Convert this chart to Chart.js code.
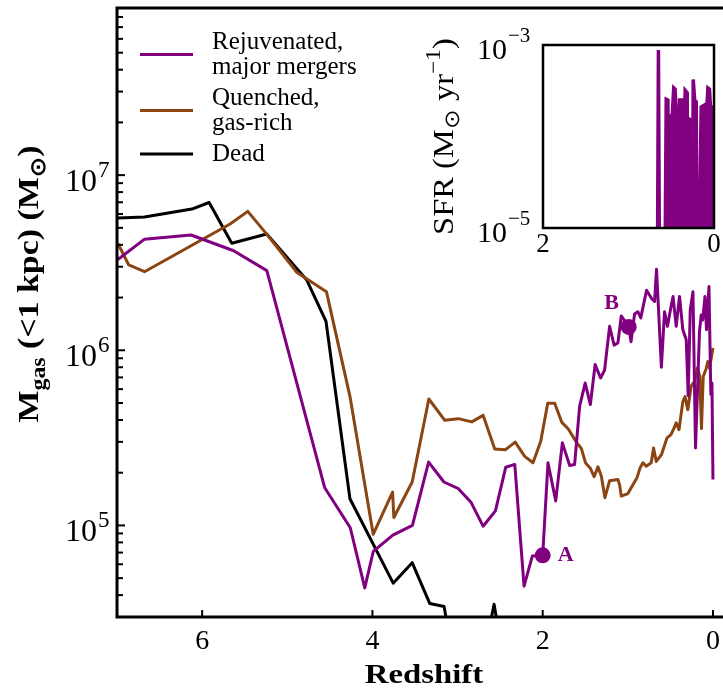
<!DOCTYPE html>
<html>
<head>
<meta charset="utf-8">
<script src="https://cdn.jsdelivr.net/npm/chart.js@4.4.1/dist/chart.umd.min.js"></script>
<style>
  body { margin: 0; background: #fff; overflow: hidden; }
  #wrap { position: relative; width: 740px; height: 693px; }
  #main { position: absolute; left: 0; top: 0; }
  #inset { position: absolute; left: 400px; top: 0; }
</style>
</head>
<body>
<div id="wrap">
  <canvas id="main" width="740" height="693" style="width:740px;height:693px"></canvas>
  <canvas id="inset" width="323" height="270" style="width:323px;height:270px"></canvas>
</div>
<script>
// ---- data ----
const rejZ = [6.99, 6.68, 6.13, 5.63, 5.24, 4.56, 4.26, 4.09, 3.99, 3.76, 3.53, 3.34, 3.16, 2.99, 2.84, 2.70,
  2.555, 2.434, 2.328, 2.219, 2.121, 2.0, 1.938, 1.847, 1.769, 1.683, 1.625, 1.566, 1.501, 1.440, 1.384,
  1.320, 1.273, 1.214, 1.161, 1.117, 1.077, 1.026, 0.99, 0.962, 0.921, 0.882, 0.848, 0.780, 0.719, 0.686,
  0.663, 0.606, 0.569, 0.534, 0.504, 0.469, 0.432, 0.393, 0.354, 0.314, 0.291, 0.267, 0.235, 0.205, 0.158,
  0.138, 0.120, 0.094, 0.076, 0.047, 0.025, 0.012, 0.0];
const rejMass = [3.3e6, 4.3e6, 4.55e6, 3.7e6, 2.85e6, 1.64e5, 9.7e4, 4.4e4, 7.1e4, 8.8e4, 1.0e5, 2.3e5, 1.77e5,
  1.62e5, 1.35e5, 9.9e4, 1.21e5, 2.15e5, 2.23e5, 4.5e4, 6.7e4, 6.75e4, 2.28e5, 1.38e5, 2.96e5, 2.2e5, 2.23e5,
  4.8e5, 6.5e5, 4.9e5, 8.3e5, 6.95e5, 7.7e5, 1.37e6, 1.07e6, 1.1e6, 1.57e6, 1.45e6, 1.36e6, 1.12e6, 1.61e6,
  1.66e6, 1.53e6, 2.2e6, 1.97e6, 1.9e6, 2.9e6, 8.0e5, 1.66e6, 1.37e6, 1.66e6, 2.03e6, 1.37e6, 2.03e6, 1.31e6,
  1.15e6, 5.5e5, 1.7e6, 2.16e6, 2.77e5, 1.29e6, 1.59e6, 1.49e6, 2.03e6, 1.31e6, 2.31e6, 5.6e5, 6.5e5, 1.83e5];

const quenZ = [6.99, 6.862, 6.677, 5.672, 5.464, 5.249, 4.886, 4.540, 4.264, 3.991, 3.763, 3.748, 3.533, 3.337,
  3.150, 2.991, 2.833, 2.700, 2.563, 2.440, 2.323, 2.211, 2.114, 2.023, 1.941, 1.859, 1.777, 1.699, 1.601,
  1.546, 1.496, 1.443, 1.396, 1.351, 1.311, 1.269, 1.214, 1.117, 1.097, 1.077, 0.999, 0.891, 0.856, 0.823,
  0.784, 0.725, 0.698, 0.666, 0.604, 0.540, 0.493, 0.463, 0.432, 0.399, 0.354, 0.328, 0.296, 0.256, 0.217,
  0.182, 0.155, 0.135, 0.115, 0.080, 0.061, 0.041, 0.0];
const quenMass = [4.08e6, 3.07e6, 2.81e6, 5.26e6, 6.21e6, 4.65e6, 2.78e6, 2.16e6, 5.46e5, 8.9e4, 1.55e5, 1.11e5,
  1.77e5, 5.27e5, 3.98e5, 4.07e5, 3.9e5, 4.25e5, 2.73e5, 2.7e5, 2.99e5, 2.48e5, 2.28e5, 3.02e5, 4.98e5, 4.98e5,
  3.89e5, 3.55e5, 2.97e5, 2.75e5, 2.27e5, 2.13e5, 1.9e5, 2.16e5, 1.91e5, 1.44e5, 1.8e5, 1.83e5, 1.71e5, 1.47e5,
  1.52e5, 1.88e5, 2.13e5, 2.28e5, 2.18e5, 2.28e5, 2.77e5, 2.32e5, 2.54e5, 3.16e5, 3.3e5, 3.55e5, 3.85e5, 3.52e5,
  5.09e5, 5.44e5, 4.58e5, 6.24e5, 6.64e5, 7.94e5, 7.09e5, 3.57e5, 7.06e5, 7.85e5, 8.63e5, 7.9e5, 1.03e6];

const deadZ = [6.99, 6.677, 6.121, 5.918, 5.652, 5.241, 4.772, 4.545, 4.264, 3.756, 3.533, 3.326, 3.158, 3.12,
  2.62, 2.571, 2.53, 2.4];
const deadMass = [5.7e6, 5.77e6, 6.4e6, 6.98e6, 4.08e6, 4.61e6, 2.52e6, 1.46e6, 1.42e5, 4.68e4, 6.13e4, 3.58e4,
  3.44e4, 2.7e4, 2.7e4, 3.55e4, 2.7e4, 2.6e4];

// marked snapshots on the rejuvenated track
const markZ = [2.0, 0.99];
const markMass = [6.75e4, 1.36e6];
const markNames = ['A', 'B'];

// inset: star formation rate of the rejuvenated galaxy (1e-6 = no star formation)
const sfrZ = [2.0, 0.664, 0.650, 0.635, 0.577, 0.559, 0.539, 0.532, 0.524, 0.489, 0.471, 0.456, 0.442, 0.421,
  0.415, 0.401, 0.380, 0.366, 0.337, 0.313, 0.304, 0.288, 0.267, 0.258, 0.243, 0.226, 0.208, 0.196, 0.173,
  0.164, 0.150, 0.115, 0.097, 0.071, 0.053, 0.041, 0.0];
const sfrVal = [1e-6, 1e-6, 8.8e-4, 1e-6, 1e-6, 2.55e-4, 2.5e-4, 1.4e-5, 1.67e-4, 1.67e-4, 3.4e-4, 3.3e-4,
  2.0e-4, 1.9e-4, 7e-5, 2.5e-4, 2.5e-4, 3.1e-5, 3.2e-4, 3.0e-4, 1e-6, 1.55e-4, 1.5e-4, 1e-6, 4.2e-4, 2.5e-4,
  2.4e-4, 1e-6, 1e-6, 2.6e-5, 2.1e-4, 2.2e-4, 1.3e-4, 3.4e-4, 3.3e-4, 2.1e-4, 2.1e-4];

const seriesNames = [['Rejuvenated,', 'major mergers'], ['Quenched,', 'gas-rich'], ['Dead']];
const seriesColors = ['#800080', '#8b4513', '#000000'];

const xTicks = [6, 4, 2, 0];
const yDecades = [5, 6, 7];
const insetXTicks = [2, 0];
const insetYDecades = [-3, -5];

const SERIF = '"Liberation Serif", "Times New Roman", serif';

function pairs(xs, ys) {
  return xs.map((x, i) => ({x: x, y: ys[i]}));
}

// draws a list of text runs (with sub/superscript offsets) centred on cx,
// optionally widened along the text direction
function drawRuns(ctx, runs, cx, y, stretch) {
  stretch = stretch || 1;
  let total = 0;
  runs.forEach(r => { ctx.font = r.font; r.w = ctx.measureText(r.t).width; total += r.w; });
  ctx.save();
  ctx.translate(cx, y);
  ctx.scale(stretch, 1);
  let x = -total / 2;
  ctx.textAlign = 'left';
  ctx.textBaseline = 'alphabetic';
  runs.forEach(r => {
    ctx.font = r.font;
    ctx.fillText(r.t, x, r.dy || 0);
    x += r.w;
  });
  ctx.restore();
}

// "10" with an exponent, right edge of the base at xr
function drawPower(ctx, exp, xr, y, baseSize, supSize, baseDy, supDy) {
  ctx.fillStyle = '#000';
  ctx.textBaseline = 'alphabetic';
  ctx.font = baseSize + 'px ' + SERIF;
  ctx.textAlign = 'right';
  ctx.fillText('10', xr, y + baseDy);
  ctx.font = supSize + 'px ' + SERIF;
  ctx.textAlign = 'left';
  ctx.fillText(exp, xr + 1, y + supDy);
}

const mainDecor = {
  id: 'mainDecor',
  afterDraw(chart) {
    const ctx = chart.ctx;
    const a = chart.chartArea;
    const xs = chart.scales.x, ys = chart.scales.y;
    ctx.save();
    ctx.strokeStyle = '#000';

    // y ticks, pointing inward
    ctx.lineWidth = 2;
    for (let p = 4; p <= 7; p++) {
      for (let k = 1; k <= 9; k++) {
        const v = k * Math.pow(10, p);
        if (v < ys.min || v > ys.max) continue;
        const py = ys.getPixelForValue(v);
        const len = k === 1 ? 8 : 6;
        ctx.beginPath();
        ctx.moveTo(a.left, py);
        ctx.lineTo(a.left + len, py);
        ctx.stroke();
      }
    }
    // x ticks
    xTicks.forEach(t => {
      const px = xs.getPixelForValue(t);
      ctx.beginPath();
      ctx.moveTo(px, a.bottom);
      ctx.lineTo(px, a.bottom - 7);
      ctx.stroke();
    });

    // frame
    ctx.lineWidth = 3;
    ctx.strokeRect(a.left, a.top, a.right - a.left, a.bottom - a.top);

    // tick labels
    ctx.fillStyle = '#000';
    ctx.font = '28px ' + SERIF;
    ctx.textAlign = 'center';
    ctx.textBaseline = 'alphabetic';
    xTicks.forEach(t => ctx.fillText(String(t), xs.getPixelForValue(t), 649));
    yDecades.forEach(d => {
      drawPower(ctx, String(d), 97, ys.getPixelForValue(Math.pow(10, d)), 32, 23, 16, 2);
    });

    // axis titles
    ctx.fillStyle = '#000';
    drawRuns(ctx, [{t: 'Redshift', font: 'bold 28px ' + SERIF}], 424, 683, 1.17);
    ctx.save();
    ctx.translate(38, 284);
    ctx.rotate(-Math.PI / 2);
    const bold = 'bold 30px ' + SERIF, boldSub = 'bold 21px ' + SERIF;
    drawRuns(ctx, [
      {t: 'M', font: bold},
      {t: 'gas', font: boldSub, dy: 7},
      {t: ' (<1 kpc) (M', font: bold},
      {t: '\u2299', font: boldSub, dy: 7},
      {t: ')', font: bold}
    ], 0, 0, 1.13);
    ctx.restore();

    // legend
    let ly = 42;
    seriesNames.forEach((lines, i) => {
      const mid = ly + (lines.length - 1) * 25 / 2;
      ctx.strokeStyle = seriesColors[i];
      ctx.lineWidth = 3;
      ctx.beginPath();
      ctx.moveTo(140, mid);
      ctx.lineTo(193, mid);
      ctx.stroke();
      ctx.fillStyle = '#000';
      ctx.font = '25px ' + SERIF;
      ctx.textAlign = 'left';
      ctx.textBaseline = 'middle';
      lines.forEach((s, j) => ctx.fillText(s, 212, ly + j * 25));
      ly += lines.length * 25 + 6;
    });

    // labels for the marked snapshots
    ctx.fillStyle = seriesColors[0];
    ctx.font = 'bold 22px ' + SERIF;
    ctx.textAlign = 'center';
    ctx.textBaseline = 'middle';
    const offs = [[23, 0], [-17, -24]];
    markNames.forEach((n, i) => {
      const px = xs.getPixelForValue(markZ[i]), py = ys.getPixelForValue(markMass[i]);
      ctx.fillText(n, px + offs[i][0], py + offs[i][1]);
    });
    ctx.restore();
  }
};

const lineStyle = {borderWidth: 3, pointRadius: 0, borderJoinStyle: 'round', fill: false, tension: 0};

new Chart(document.getElementById('main'), {
  type: 'line',
  data: {
    datasets: [
      Object.assign({label: seriesNames[0].join(' '), data: pairs(rejZ, rejMass), borderColor: seriesColors[0]}, lineStyle),
      Object.assign({label: seriesNames[1].join(' '), data: pairs(quenZ, quenMass), borderColor: seriesColors[1]}, lineStyle),
      Object.assign({label: seriesNames[2].join(' '), data: pairs(deadZ, deadMass), borderColor: seriesColors[2]}, lineStyle),
      {
        label: 'snapshots',
        data: pairs(markZ, markMass),
        showLine: false,
        pointRadius: 8,
        pointBorderWidth: 0,
        pointBackgroundColor: seriesColors[0],
        borderColor: seriesColors[0]
      }
    ]
  },
  options: {
    responsive: false,
    animation: false,
    devicePixelRatio: 1,
    layout: {padding: {left: 117, top: 7, right: 10, bottom: 76}},
    plugins: {legend: {display: false}, tooltip: {enabled: false}},
    scales: {
      x: {type: 'linear', reverse: true, min: -0.2, max: 7, display: false},
      y: {type: 'logarithmic', min: 3e4, max: 9e7, display: false}
    }
  },
  plugins: [mainDecor]
});

// ---- inset ----
const insetDecor = {
  id: 'insetDecor',
  beforeDatasetsDraw(chart) {
    const a = chart.chartArea, ctx = chart.ctx;
    ctx.save();
    ctx.fillStyle = '#fff';
    ctx.fillRect(a.left, a.top, a.right - a.left, a.bottom - a.top);
    ctx.restore();
  },
  afterDraw(chart) {
    const ctx = chart.ctx;
    const a = chart.chartArea;
    const xs = chart.scales.x, ys = chart.scales.y;
    ctx.save();
    ctx.strokeStyle = '#000';
    ctx.lineWidth = 2.5;
    ctx.strokeRect(a.left, a.top, a.right - a.left, a.bottom - a.top);

    ctx.fillStyle = '#000';
    ctx.font = '27px ' + SERIF;
    ctx.textAlign = 'center';
    ctx.textBaseline = 'alphabetic';
    insetXTicks.forEach(t => ctx.fillText(String(t), xs.getPixelForValue(t), 252));
    insetYDecades.forEach(d => {
      drawPower(ctx, '\u2212' + Math.abs(d), 107, ys.getPixelForValue(Math.pow(10, d)), 30, 21, 14, -3);
    });

    ctx.save();
    ctx.translate(53, (a.top + a.bottom) / 2);
    ctx.rotate(-Math.PI / 2);
    const reg = '29px ' + SERIF, small = '21px ' + SERIF;
    ctx.fillStyle = '#000';
    drawRuns(ctx, [
      {t: 'SFR (M', font: reg},
      {t: '\u2299', font: small, dy: 6},
      {t: ' yr', font: reg},
      {t: '\u22121', font: small, dy: -13},
      {t: ')', font: reg}
    ], 0, 0, 1.12);
    ctx.restore();
    ctx.restore();
  }
};

new Chart(document.getElementById('inset'), {
  type: 'line',
  data: {
    datasets: [{
      label: 'SFR',
      data: pairs(sfrZ, sfrVal),
      borderColor: seriesColors[0],
      backgroundColor: seriesColors[0],
      borderWidth: 3.5,
      pointRadius: 0,
      tension: 0,
      fill: 'start'
    }]
  },
  options: {
    responsive: false,
    animation: false,
    devicePixelRatio: 1,
    layout: {padding: {left: 143, top: 45, right: 9, bottom: 42}},
    plugins: {legend: {display: false}, tooltip: {enabled: false}, filler: {propagate: false}},
    scales: {
      x: {type: 'linear', reverse: true, min: 0, max: 2, display: false},
      y: {type: 'logarithmic', min: 1e-5, max: 1e-3, display: false}
    }
  },
  plugins: [insetDecor]
});
</script>
</body>
</html>
